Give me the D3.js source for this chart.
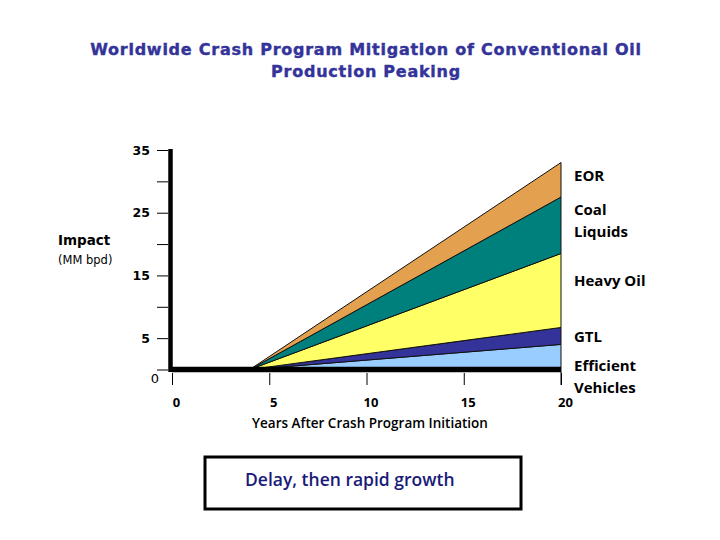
<!DOCTYPE html>
<html>
<head>
<meta charset="utf-8">
<script src="https://cdn.jsdelivr.net/npm/d3@7"></script>
<style>
  html, body { margin: 0; padding: 0; background: #fff; }
</style>
</head>
<body>
<svg id="chart" width="720" height="540"></svg>
<script>
// ---- data ----
const years = [0, 4, 20];
const efficientVehicles = [0, 0, 4.0];
const gtl = [0, 0, 2.7];
const heavyOil = [0, 0, 11.8];
const coalLiquids = [0, 0, 9.0];
const eor = [0, 0, 5.5];
const seriesNames = ["Efficient Vehicles", "GTL", "Heavy Oil", "Coal Liquids", "EOR"];
const seriesValues = [efficientVehicles, gtl, heavyOil, coalLiquids, eor];
const seriesColors = ["#99CCFF", "#333399", "#FFFF66", "#00807C", "#E3A14F"];
const yTicks = [0, 5, 10, 15, 20, 25, 30, 35];
const yTickLabels = ["0", "5", "", "15", "", "25", "", "35"];
const xTicks = [0, 5, 10, 15, 20];
const titleLines = ["Worldwide Crash Program Mitigation of Conventional Oil", "Production Peaking"];

const svg = d3.select("#chart");

const x = d3.scaleLinear().domain([0, 20]).range([172, 561]);
const y = d3.scaleLinear().domain([0, 35]).range([369.5, 150]);

// stacked data table
const table = years.map((yr, i) => {
  const row = { year: yr };
  seriesNames.forEach((n, k) => row[n] = seriesValues[k][i]);
  return row;
});
const stacked = d3.stack().keys(seriesNames)(table);

const area = d3.area()
  .x(d => x(d.data.year))
  .y0(d => y(d[0]))
  .y1(d => y(d[1]));

svg.append("g").selectAll("path")
  .data(stacked)
  .join("path")
  .attr("d", area)
  .attr("fill", (d, i) => seriesColors[i])
  .attr("stroke", "#111")
  .attr("stroke-width", 1)
  .attr("stroke-linejoin", "miter");

// title
svg.append("g").selectAll("text")
  .data(titleLines)
  .join("text")
  .attr("x", 366)
  .attr("y", (d, i) => 55 + i * 22)
  .attr("text-anchor", "middle")
  .attr("font-family", "DejaVu Sans, Verdana, sans-serif")
  .attr("font-weight", "bold")
  .attr("font-size", 16)
  .attr("letter-spacing", 0.75)
  .attr("fill", "#333399")
  .attr("stroke", "#333399")
  .attr("stroke-width", 0.4)
  .text(d => d);

// y axis
const yAxis = d3.axisLeft(y)
  .tickValues(yTicks)
  .tickSize(11)
  .tickPadding(7)
  .tickFormat((d, i) => yTickLabels[i]);
const gy = svg.append("g")
  .attr("transform", `translate(${x(0) - 4},0)`)
  .call(yAxis);
gy.select(".domain").remove();
gy.selectAll(".tick line").attr("stroke", "#000").attr("stroke-width", 1);
gy.selectAll(".tick text")
  .attr("font-family", "DejaVu Sans, Verdana, sans-serif")
  .attr("font-weight", "bold")
  .attr("font-size", 12.5)
  .attr("fill", "#000");
gy.selectAll(".tick").filter(d => d === 0).select("text")
  .attr("font-weight", "normal")
  .attr("font-size", 13)
  .attr("x", -9)
  .attr("dy", "1.0em");

// x axis ticks
const xAxis = d3.axisBottom(x)
  .tickValues(xTicks)
  .tickSize(12)
  .tickPadding(13);
const gx = svg.append("g")
  .attr("transform", `translate(0,373)`)
  .call(xAxis);
gx.select(".domain").remove();
gx.selectAll(".tick line").attr("stroke", "#000").attr("stroke-width", 1);
gx.selectAll(".tick text")
  .attr("x", 4)
  .attr("font-family", "Open Sans, sans-serif")
  .attr("font-weight", "bold")
  .attr("font-size", 13)
  .attr("fill", "#000");

// thick axis lines
svg.append("line")
  .attr("x1", x(0) - 1.5).attr("x2", x(0) - 1.5)
  .attr("y1", y(35) - 1).attr("y2", y(0) + 2.5)
  .attr("stroke", "#000").attr("stroke-width", 4.5);
svg.append("path")
  .datum(years)
  .attr("d", d3.line().x(d => x(d)).y(() => y(0)))
  .attr("stroke", "#000").attr("stroke-width", 5.5).attr("fill", "none");
// right edge line down to tick
svg.append("line")
  .attr("x1", x(20)).attr("x2", x(20))
  .attr("y1", y(0)).attr("y2", 385)
  .attr("stroke", "#000").attr("stroke-width", 1);

// axis titles
svg.append("text")
  .attr("x", 370).attr("y", 428)
  .attr("text-anchor", "middle")
  .attr("font-family", "Open Sans, sans-serif")
  .attr("font-weight", 600)
  .attr("font-size", 13.5)
  .attr("fill", "#000")
  .text("Years After Crash Program Initiation");
svg.append("text")
  .attr("x", 58).attr("y", 245)
  .attr("font-family", "DejaVu Sans, Verdana, sans-serif")
  .attr("font-weight", "bold")
  .attr("font-size", 13.5)
  .attr("fill", "#000")
  .text("Impact");
svg.append("text")
  .attr("x", 58).attr("y", 264)
  .attr("font-family", "DejaVu Sans, Verdana, sans-serif")
  .attr("font-size", 11.5)
  .attr("fill", "#000")
  .text("(MM bpd)");

// right labels
const rightLabels = [
  { lines: ["EOR"], y: 181 },
  { lines: ["Coal", "Liquids"], y: 215 },
  { lines: ["Heavy Oil"], y: 286 },
  { lines: ["GTL"], y: 342 },
  { lines: ["Efficient", "Vehicles"], y: 371 }
];
rightLabels.forEach(l => {
  const t = svg.append("text")
    .attr("x", 574).attr("y", l.y)
    .attr("font-family", "Open Sans, sans-serif")
    .attr("font-weight", "bold")
    .attr("font-size", 15)
    .attr("fill", "#000");
  l.lines.forEach((s, i) => t.append("tspan").attr("x", 574).attr("dy", i === 0 ? 0 : 21.5).text(s));
});

// annotation box
svg.append("rect")
  .attr("x", 205).attr("y", 457)
  .attr("width", 316).attr("height", 52)
  .attr("fill", "#fff").attr("stroke", "#000").attr("stroke-width", 3);
svg.append("text")
  .attr("x", 245).attr("y", 486)
  .attr("font-family", "Open Sans, sans-serif")
  .attr("font-weight", 600)
  .attr("font-size", 17.5)
  .attr("fill", "#1a1a7a")
  .text("Delay, then rapid growth");
</script>
</body>
</html>
